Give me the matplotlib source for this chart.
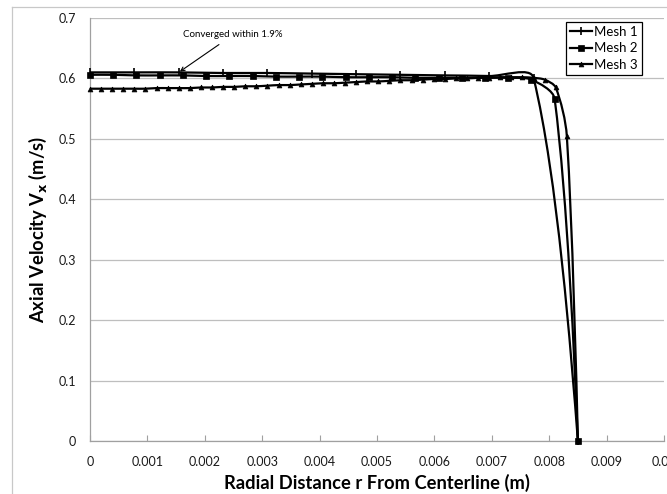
import numpy as np
import matplotlib
matplotlib.use("Agg")
import matplotlib.pyplot as plt
from matplotlib.path import Path
from matplotlib.patches import PathPatch
from matplotlib.lines import Line2D

plt.rcParams['font.family'] = ['Lato', 'DejaVu Sans']

# ---------------- data ----------------
r_max = 0.0085
mesh1_v = [0.610, 0.610, 0.610, 0.609, 0.609, 0.608, 0.607, 0.606, 0.605, 0.604, 0.601, 0.0]
mesh2_v = [0.606, 0.606, 0.605, 0.605, 0.605, 0.604, 0.604, 0.604, 0.603, 0.603, 0.603,
           0.602, 0.602, 0.602, 0.601, 0.601, 0.601, 0.601, 0.601, 0.598, 0.566, 0.0]
mesh3_v = [0.583, 0.583, 0.583, 0.583, 0.583, 0.583, 0.584, 0.584, 0.584, 0.584, 0.585,
           0.585, 0.586, 0.586, 0.587, 0.587, 0.588, 0.589, 0.589, 0.590, 0.591, 0.592,
           0.592, 0.593, 0.594, 0.595, 0.595, 0.596, 0.597, 0.597, 0.598, 0.599, 0.599,
           0.600, 0.600, 0.601, 0.601, 0.602, 0.602, 0.602, 0.601, 0.598, 0.585, 0.505, 0.0]
mesh1_r = list(np.linspace(0, r_max, len(mesh1_v)))
mesh2_r = list(np.linspace(0, r_max, len(mesh2_v)))
mesh3_r = list(np.linspace(0, r_max, len(mesh3_v)))
series_labels = ["Mesh 1", "Mesh 2", "Mesh 3"]
x_ticks = [0, 0.001, 0.002, 0.003, 0.004, 0.005, 0.006, 0.007, 0.008, 0.009, 0.01]
x_tick_labels = ["0", "0.001", "0.002", "0.003", "0.004", "0.005", "0.006", "0.007",
                 "0.008", "0.009", "0.01"]
y_ticks = [0, 0.1, 0.2, 0.3, 0.4, 0.5, 0.6, 0.7]
y_tick_labels = ["0", "0.1", "0.2", "0.3", "0.4", "0.5", "0.6", "0.7"]
annot_text = "Converged within 1.9%"
annot_point = (mesh1_r[2], mesh1_v[2])

# ---------------- figure ----------------
W, H = 667, 494
fig = plt.figure(figsize=(W / 100, H / 100), dpi=100)
ax = fig.add_axes([90 / W, 1 - 441 / H, (664 - 90) / W, (441 - 18) / H])
ax.set_xlim(0, 0.01)
ax.set_ylim(0, 0.7)

# outer chart border (light gray)
fig.add_artist(Line2D([12 / W, 12 / W], [0, 1 - 7 / H], color='#C8C8C8', lw=0.9,
                      transform=fig.transFigure))
fig.add_artist(Line2D([12 / W, 1], [1 - 7 / H, 1 - 7 / H], color='#C8C8C8', lw=0.9,
                      transform=fig.transFigure))

grid_c = '#BEBEBE'
ax.set_yticks(y_ticks)
ax.set_yticklabels(y_tick_labels)
ax.set_xticks(x_ticks)
ax.set_xticklabels(x_tick_labels)
ax.yaxis.grid(True, color=grid_c, lw=0.9)
ax.set_axisbelow(True)
for s in ['top', 'right']:
    ax.spines[s].set_visible(False)
for s in ['left', 'bottom']:
    ax.spines[s].set_color('#A0A0A0')
    ax.spines[s].set_linewidth(0.9)
ax.tick_params(axis='x', direction='in', length=4, color='#A0A0A0', labelsize=9,
               pad=11, labelcolor='#1a1a1a')
ax.tick_params(axis='y', length=0, labelsize=9, pad=10, labelcolor='#1a1a1a')

ax.set_xlabel("Radial Distance r From Centerline (m)", fontsize=13.2, fontweight='bold',
              labelpad=4)
ax.set_ylabel(r"Axial Velocity V$_\mathbf{x}$ (m/s)", fontsize=13.2, fontweight='bold',
              labelpad=7)


def smooth_patch(xs, ys, t=0.3, lw=1.6):
    pts = ax.transData.transform(np.column_stack([xs, ys]))
    n = len(pts)
    cin = pts.copy()
    cout = pts.copy()
    for i in range(1, n - 1):
        p0, p1, p2 = pts[i - 1], pts[i], pts[i + 1]
        d01 = np.hypot(*(p1 - p0))
        d12 = np.hypot(*(p2 - p1))
        fa = t * d01 / (d01 + d12)
        fb = t * d12 / (d01 + d12)
        cin[i] = p1 - fa * (p2 - p0)
        cout[i] = p1 + fb * (p2 - p0)
    cout[0] = pts[0] + (cin[1] - pts[0]) / 3
    cin[n - 1] = pts[n - 1] + (cout[n - 2] - pts[n - 1]) / 3
    verts = [pts[0]]
    codes = [Path.MOVETO]
    for i in range(n - 1):
        verts += [cout[i], cin[i + 1], pts[i + 1]]
        codes += [Path.CURVE4] * 3
    verts = ax.transData.inverted().transform(np.array(verts))
    patch = PathPatch(Path(verts, codes), fill=False, edgecolor='black', lw=lw,
                      transform=ax.transData, capstyle='round', joinstyle='round', zorder=3)
    ax.add_patch(patch)


styles = [dict(marker='|', ms=6, mew=1.2),
          dict(marker='s', ms=4, mew=0.5),
          dict(marker='^', ms=3.5, mew=0.5)]
data = [(mesh1_r, mesh1_v), (mesh2_r, mesh2_v), (mesh3_r, mesh3_v)]
handles = []
for (xs, ys), st, lab in zip(data, styles, series_labels):
    smooth_patch(xs, ys)
    ax.plot(xs, ys, linestyle='none', color='black', zorder=4, clip_on=False, **st)
    handles.append(Line2D([], [], color='black', lw=1.6, **st))

leg = ax.legend(handles, series_labels, loc='upper right',
                bbox_to_anchor=((641.7 - 90) / 574, (441 - 21.7) / 423),
                fancybox=False, framealpha=1, edgecolor='black', fontsize=9.5,
                handlelength=1.7, handletextpad=0.15, borderpad=0.3, labelspacing=0.35,
                borderaxespad=0)
leg.get_frame().set_linewidth(0.9)

ax.annotate(annot_text, xy=annot_point, xytext=(0.00249, 0.672),
            ha='center', va='center', fontsize=7,
            arrowprops=dict(arrowstyle='->', color='black', lw=0.8, shrinkA=3, shrinkB=1))

fig.savefig("out.png", dpi=100)
